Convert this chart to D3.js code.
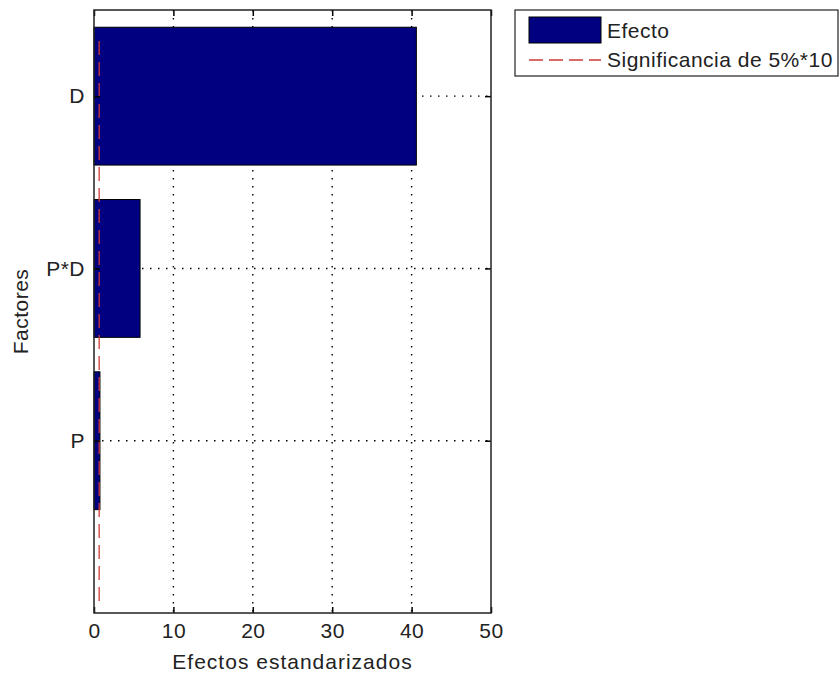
<!DOCTYPE html>
<html>
<head>
<meta charset="utf-8">
<script src="https://cdn.jsdelivr.net/npm/d3@7"></script>
<style>
  body { margin: 0; background: #fff; }
  text { font-family: "Liberation Sans", Arial, sans-serif; fill: #222; }
</style>
</head>
<body>
<div id="chart"></div>
<script>
// factors, bottom to top
const factors = ["P", "P*D", "D"];
const effects = [0.75, 5.8, 40.6];
const significance = 0.65;
const xTicks = [0, 10, 20, 30, 40, 50];
const legendLabels = ["Efecto", "Significancia de 5%*10"];

const W = 839, H = 677;
const box = {left: 94, top: 10, right: 491, bottom: 613};
const fs = 21;

const svg = d3.select("#chart").append("svg")
    .attr("width", W).attr("height", H);

let x = d3.scaleLinear().domain([0, 50]).range([box.left, box.right]);
let y = d3.scaleLinear().domain([0, 3.5]).range([box.bottom, box.top]);

// dotted grid
const grid = svg.append("g").attr("class", "grid")
    .attr("stroke", "#000").attr("stroke-width", 1.4)
    .attr("stroke-dasharray", "1.5,6.5");
grid.selectAll("line.v").data(xTicks.slice(1, -1)).enter().append("line")
    .attr("x1", d => x(d)).attr("x2", d => x(d))
    .attr("y1", box.top).attr("y2", box.bottom);
grid.selectAll("line.h").data(factors).enter().append("line")
    .attr("x1", box.left).attr("x2", box.right)
    .attr("y1", (d, i) => y(i + 1)).attr("y2", (d, i) => y(i + 1));

// bars
svg.append("g").selectAll("rect")
    .data(effects).enter().append("rect")
    .attr("x", x(0))
    .attr("y", (d, i) => y(i + 1 + 0.4))
    .attr("width", d => x(d) - x(0))
    .attr("height", y(0) - y(0.8))
    .attr("fill", "#000080")
    .attr("stroke", "#000").attr("stroke-width", 1);

// significance line
svg.append("line")
    .attr("x1", x(significance)).attr("x2", x(significance))
    .attr("y1", y(3.32)).attr("y2", y(0.03))
    .attr("stroke", "#d03a3a").attr("stroke-width", 1.3)
    .attr("stroke-dasharray", "14,7");

// axes box + ticks on all sides
const xAxis = d3.axisBottom(x).tickValues(xTicks).tickSize(-6).tickPadding(10).tickFormat(d3.format("d"));
const xTop = d3.axisTop(x).tickValues(xTicks).tickSize(-6).tickFormat("");
const yAxis = d3.axisLeft(y).tickValues([1, 2, 3]).tickSize(-6).tickPadding(9)
    .tickFormat(d => factors[d - 1]);
const yRight = d3.axisRight(y).tickValues([1, 2, 3]).tickSize(-6).tickFormat("");

function styleAxis(g) {
  g.select(".domain").remove();
  g.selectAll("line").attr("stroke", "#000").attr("stroke-width", 1.5);
  g.selectAll("text").attr("font-size", fs).attr("fill", "#222")
      .style("letter-spacing", "0.5px")
      .style("font-family", "'Liberation Sans', Arial, sans-serif");
}
svg.append("g").attr("transform", `translate(0,${box.bottom})`).call(xAxis).call(styleAxis);
svg.append("g").attr("transform", `translate(0,${box.top})`).call(xTop).call(styleAxis);
svg.append("g").attr("transform", `translate(${box.left},0)`).call(yAxis).call(styleAxis);
svg.append("g").attr("transform", `translate(${box.right},0)`).call(yRight).call(styleAxis);

svg.append("rect")
    .attr("x", box.left).attr("y", box.top)
    .attr("width", box.right - box.left).attr("height", box.bottom - box.top)
    .attr("fill", "none").attr("stroke", "#222").attr("stroke-width", 1.5);

// axis titles
svg.append("text")
    .attr("x", (box.left + box.right) / 2).attr("y", 669)
    .attr("text-anchor", "middle").attr("font-size", fs)
    .style("letter-spacing", "1px")
    .text("Efectos estandarizados");
svg.append("text")
    .attr("transform", `translate(28,${(box.top + box.bottom) / 2}) rotate(-90)`)
    .attr("text-anchor", "middle").attr("font-size", fs)
    .style("letter-spacing", "0.5px")
    .text("Factores");

// legend
const lg = svg.append("g").attr("transform", "translate(515,10)");
lg.append("rect").attr("x", 0).attr("y", 0).attr("width", 323).attr("height", 66)
    .attr("fill", "#fff").attr("stroke", "#222").attr("stroke-width", 1.2);
lg.append("rect").attr("x", 14).attr("y", 7).attr("width", 72).attr("height", 26)
    .attr("fill", "#000080").attr("stroke", "#000");
lg.append("line").attr("x1", 14).attr("x2", 86).attr("y1", 50).attr("y2", 50)
    .attr("stroke", "#d03a3a").attr("stroke-width", 1.3).attr("stroke-dasharray", "14,6");
lg.selectAll("text.lbl").data(legendLabels).enter().append("text")
    .attr("x", 92).attr("y", (d, i) => 28 + i * 29)
    .attr("font-size", fs).style("letter-spacing", "0.5px").text(d => d);
</script>
</body>
</html>
